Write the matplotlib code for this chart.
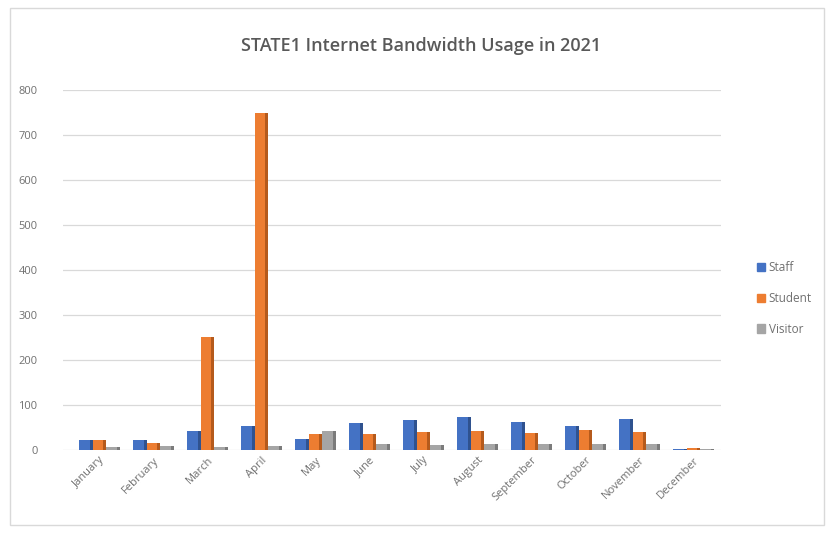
import numpy as np
import matplotlib.pyplot as plt
from matplotlib.patches import Rectangle

# monthly bandwidth usage per user group
months = ["January", "February", "March", "April", "May", "June", "July",
          "August", "September", "October", "November", "December"]
staff = [22, 21, 43, 52, 24, 60, 67, 72, 62, 53, 69, 2]
student = [21, 16, 250, 750, 36, 35, 40, 42, 38, 44, 40, 4]
visitor = [6, 8, 6, 8, 42, 14, 11, 12, 12, 12, 12, 3]

colors = ["#4472C4", "#ED7D31", "#A5A5A5"]
sides = ["#2F528F", "#B55A1C", "#7B7B7B"]

plt.rcParams["font.family"] = ["Open Sans", "DejaVu Sans"]

fig = plt.figure(figsize=(8.34, 5.33), dpi=100)
fig.patches.append(Rectangle((0.012, 0.015), 0.976, 0.97, transform=fig.transFigure,
                             fill=False, edgecolor="#D9D9D9", linewidth=1))
ax = fig.add_axes([0.075, 0.156, 0.79, 0.675])

x = np.arange(len(months))
w = 0.25
for i, (vals, lab) in enumerate(zip([staff, student, visitor], ["Staff", "Student", "Visitor"])):
    pos = x + (i - 1) * w
    # front face plus a darker right face for a bit of depth
    ax.bar(pos - w * 0.1, vals, width=w * 0.8, color=colors[i], label=lab, zorder=3 + i)
    ax.bar(pos + w * 0.4, vals, width=w * 0.2, color=sides[i], zorder=3 + i)

ax.set_ylim(0, 800)
ax.set_xlim(-0.68, 11.52)
ax.set_yticks(range(0, 801, 100))
ax.yaxis.grid(True, color="#D9D9D9", linewidth=0.9, zorder=0)
ax.set_xticks(x)
ax.set_xticklabels(months, rotation=45, ha="right", rotation_mode="anchor")
ax.tick_params(axis="both", length=0, labelsize=8, colors="#707070")
ax.tick_params(axis="y", pad=18)
for s in ax.spines.values():
    s.set_visible(False)

fig.text(0.505, 0.905, "STATE1 Internet Bandwidth Usage in 2021", ha="center",
         fontsize=13, fontweight="semibold", color="#595959")

handles = [Rectangle((0, 0), 1, 1, color=c) for c in colors]
fig.legend(handles, ["Staff", "Student", "Visitor"], loc="center left",
           bbox_to_anchor=(0.895, 0.44), frameon=False, fontsize=8.5,
           labelcolor="#707070", handlelength=0.7, handleheight=0.7,
           handletextpad=0.3, labelspacing=1.5)

fig.savefig("out.png", dpi=100)
